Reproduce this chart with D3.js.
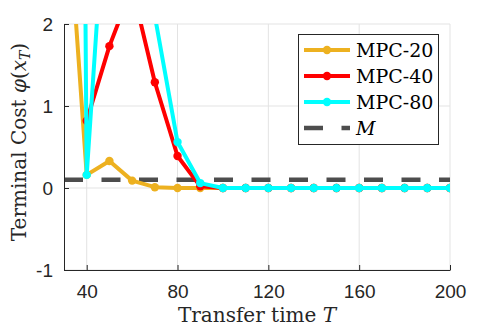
<!DOCTYPE html>
<html>
<head>
<meta charset="utf-8">
<script src="https://d3js.org/d3.v7.min.js"></script>
<style>
  body { margin: 0; background: #fff; }
</style>
</head>
<body>
<div id="chart"></div>
<script>
const w = 498;
const h = 332;
const padLeft = 64, padRight = 450, padTop = 24, padBottom = 270;

// data
const T20 = [30, 40, 50, 60, 70, 80, 90, 100, 110, 120, 130, 140, 150, 160, 170, 180, 190, 200];
const mpc20 = [4.1, 0.16, 0.33, 0.09, 0.01, 0, 0, 0, 0, 0, 0, 0, 0, 0, 0, 0, 0, 0];
const T40 = [40, 50, 60, 70, 80, 90, 100, 110, 120, 130, 140, 150, 160, 170, 180, 190, 200];
const mpc40 = [0.82, 1.73, 2.45, 1.29, 0.39, 0.02, 0, 0, 0, 0, 0, 0, 0, 0, 0, 0, 0];
const T80 = [30, 40, 50, 60, 70, 80, 90, 100, 110, 120, 130, 140, 150, 160, 170, 180, 190, 200];
const mpc80 = [35, 0.16, 4.3, 4.5, 2.1, 0.56, 0.06, 0, 0, 0, 0, 0, 0, 0, 0, 0, 0, 0];
const M = 0.1;
const xTicks = [40, 80, 120, 160, 200];
const yTicks = [-1, 0, 1, 2];

const series = [
  {name: 'MPC-20', T: T20, v: mpc20, color: '#EDB120'},
  {name: 'MPC-40', T: T40, v: mpc40, color: '#FF0000'},
  {name: 'MPC-80', T: T80, v: mpc80, color: '#00FFFF'}
];

const xScale = d3.scaleLinear().domain([30, 200]).range([padLeft, padRight]);
const yScale = d3.scaleLinear().domain([-1, 2]).range([padBottom, padTop]);

const svg = d3.select('#chart')
  .append('svg')
  .attr('width', w)
  .attr('height', h);

svg.append('clipPath')
  .attr('id', 'clip')
  .append('rect')
  .attr('x', padLeft)
  .attr('y', padTop)
  .attr('width', padRight - padLeft)
  .attr('height', padBottom - padTop);

//grid
svg.append('g')
  .selectAll('line')
  .data(xTicks)
  .enter()
  .append('line')
  .attr('x1', (d) => xScale(d))
  .attr('x2', (d) => xScale(d))
  .attr('y1', padTop)
  .attr('y2', padBottom)
  .attr('stroke', '#e3e3e3')
  .attr('stroke-width', 1);

svg.append('g')
  .selectAll('line')
  .data(yTicks)
  .enter()
  .append('line')
  .attr('x1', padLeft)
  .attr('x2', padRight)
  .attr('y1', (d) => yScale(d))
  .attr('y2', (d) => yScale(d))
  .attr('stroke', '#e3e3e3')
  .attr('stroke-width', 1);

const plot = svg.append('g').attr('clip-path', 'url(#clip)');

//M line
plot.append('path')
  .datum([30, 200])
  .attr('stroke', '#4d4d4d')
  .attr('stroke-width', 4.5)
  .attr('stroke-dasharray', '19 18.5')
  .attr('fill', 'none')
  .attr('d', d3.line()
    .x((d) => xScale(d))
    .y(() => yScale(M)));

//series
series.forEach(function (s) {
  const pts = s.T.map((t, i) => [t, s.v[i]]);
  plot.append('path')
    .datum(pts)
    .attr('stroke', s.color)
    .attr('stroke-width', 4)
    .attr('stroke-linejoin', 'round')
    .attr('fill', 'none')
    .attr('d', d3.line()
      .x((d) => xScale(d[0]))
      .y((d) => yScale(d[1])));

  plot.selectAll(null)
    .data(pts)
    .enter()
    .append('circle')
    .attr('cx', (d) => xScale(d[0]))
    .attr('cy', (d) => yScale(d[1]))
    .attr('r', 4.2)
    .attr('fill', s.color);
});

//x-axis
const xAxis = svg.append('g')
  .attr('transform', 'translate(0,' + padBottom + ')')
  .call(d3.axisBottom(xScale).tickValues(xTicks).tickSizeInner(-5).tickSizeOuter(0).tickPadding(15));

//y-axis
const yAxis = svg.append('g')
  .attr('transform', 'translate(' + padLeft + ',0)')
  .call(d3.axisLeft(yScale).tickValues(yTicks).tickFormat(d3.format('d')).tickSizeInner(-5).tickSizeOuter(0).tickPadding(11));

[xAxis, yAxis].forEach(function (a) {
  a.select('.domain').attr('stroke', '#262626').attr('stroke-width', 1);
  a.selectAll('.tick line').attr('stroke', '#262626');
  a.selectAll('.tick text')
    .attr('fill', '#262626')
    .style('font-family', '"Liberation Sans", Arial, sans-serif')
    .style('font-size', '19px');
});
yAxis.selectAll('.tick text').text((d) => d < 0 ? '-' + Math.abs(d) : d);

//x-axis label
const xl = svg.append('text')
  .attr('x', 257)
  .attr('y', 322)
  .attr('text-anchor', 'middle')
  .style('font-family', '"DejaVu Serif", serif')
  .style('font-size', '20px')
  .attr('fill', '#262626');
xl.append('tspan').text('Transfer time ');
xl.append('tspan').style('font-style', 'italic').text('T');

//y-axis label
const yl = svg.append('text')
  .attr('text-anchor', 'middle')
  .attr('transform', 'translate(26,142)rotate(-90)')
  .style('font-family', '"DejaVu Serif", serif')
  .style('font-size', '20px')
  .attr('fill', '#262626');
yl.append('tspan').text('Terminal Cost  ');
yl.append('tspan').style('font-style', 'italic').text('\u03C6');
yl.append('tspan').text('(');
yl.append('tspan').style('font-style', 'italic').text('x');
yl.append('tspan').style('font-style', 'italic').style('font-size', '14px').attr('dy', 4).text('T');
yl.append('tspan').attr('dy', -4).text(')');

//legend
svg.append('rect')
  .attr('x', 298.5)
  .attr('y', 34.5)
  .attr('width', 140)
  .attr('height', 110)
  .attr('fill', '#fff')
  .attr('stroke', '#262626')
  .attr('stroke-width', 1);

const legendItems = series.concat([{name: 'M', color: '#4d4d4d', dashed: true}]);
legendItems.forEach(function (s, i) {
  const ly = 50 + i * 26;
  svg.append('line')
    .attr('x1', 304)
    .attr('x2', 350)
    .attr('y1', ly)
    .attr('y2', ly)
    .attr('stroke', s.color)
    .attr('stroke-width', s.dashed ? 4.5 : 4)
    .attr('stroke-dasharray', s.dashed ? '19 18.5' : null);
  if (!s.dashed) {
    svg.append('circle')
      .attr('cx', 327)
      .attr('cy', ly)
      .attr('r', 4.2)
      .attr('fill', s.color);
  }
  svg.append('text')
    .attr('x', 356)
    .attr('y', ly + 7)
    .style('font-family', '"DejaVu Serif", serif')
    .style('font-size', '19px')
    .style('font-style', s.dashed ? 'italic' : 'normal')
    .attr('fill', '#000')
    .text(s.name);
});
</script>
</body>
</html>
